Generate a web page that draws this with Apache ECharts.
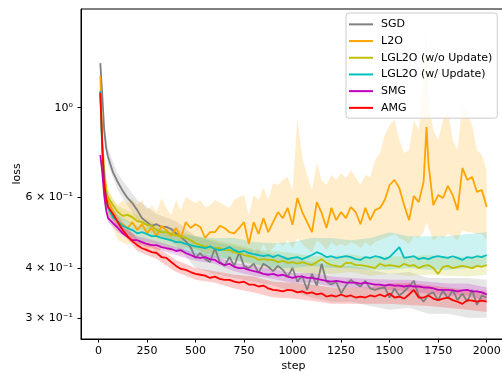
<!DOCTYPE html>
<html>
<head>
<meta charset="utf-8">
<script src="https://cdn.jsdelivr.net/npm/echarts@6/dist/echarts.min.js"></script>
<style>
  html, body { margin: 0; padding: 0; background: #fff; }
  #chart { width: 502px; height: 373px; }
</style>
</head>
<body>
<div id="chart"></div>
<script>
// steps shared by the five smoother methods
const steps = [10, 20, 30, 40, 50, 75, 100, 125, 150, 175,
  200, 225, 250, 275, 300, 325, 350, 375, 400, 425,
  450, 475, 500, 525, 550, 575, 600, 625, 650, 675,
  700, 725, 750, 775, 800, 825, 850, 875, 900, 925,
  950, 975, 1000, 1025, 1050, 1075, 1100, 1125, 1150, 1175,
  1200, 1225, 1250, 1275, 1300, 1325, 1350, 1375, 1400, 1425,
  1450, 1475, 1500, 1525, 1550, 1575, 1600, 1625, 1650, 1675,
  1700, 1725, 1750, 1775, 1800, 1825, 1850, 1875, 1900, 1925,
  1950, 1975, 2000];

// L2O has one extra point at its big spike
const stepsL2O = [10, 20, 30, 40, 50, 75, 100, 125, 150, 175,
  200, 225, 250, 275, 300, 325, 350, 375, 400, 425,
  450, 475, 500, 525, 550, 575, 600, 625, 650, 675,
  700, 725, 750, 775, 800, 825, 850, 875, 900, 925,
  950, 975, 1000, 1025, 1050, 1075, 1100, 1125, 1150, 1175,
  1200, 1225, 1250, 1275, 1300, 1325, 1350, 1375, 1400, 1425,
  1450, 1475, 1500, 1525, 1550, 1575, 1600, 1625, 1650, 1675,
  1690, 1700, 1725, 1750, 1775, 1800, 1825, 1850, 1875, 1900, 1925,
  1950, 1975, 2000];

// steps where the shaded bands of the other methods were read
const bandSteps = [10, 30, 50, 100, 200, 300, 400, 500, 600, 700, 800,
  900, 1000, 1100, 1200, 1300, 1400, 1500, 1600, 1700, 1800, 1900, 2000];

const sgd = [1.29, 1.075, 0.880, 0.794, 0.755, 0.692, 0.654, 0.622, 0.597, 0.580,
  0.557, 0.532, 0.520, 0.509, 0.514, 0.506, 0.506, 0.500, 0.488, 0.478,
  0.466, 0.451, 0.424, 0.436, 0.421, 0.414, 0.448, 0.414, 0.405, 0.426,
  0.405, 0.438, 0.405, 0.400, 0.410, 0.389, 0.410, 0.403, 0.393, 0.405,
  0.396, 0.381, 0.400, 0.370, 0.383, 0.353, 0.387, 0.362, 0.410, 0.370,
  0.364, 0.370, 0.346, 0.362, 0.374, 0.366, 0.360, 0.372, 0.356, 0.353,
  0.356, 0.358, 0.338, 0.356, 0.342, 0.350, 0.360, 0.372, 0.342, 0.330,
  0.344, 0.348, 0.333, 0.352, 0.336, 0.353, 0.333, 0.346, 0.330, 0.353,
  0.324, 0.342, 0.338];

const l2o = [1.199, 0.831, 0.700, 0.625, 0.590, 0.551, 0.520, 0.514, 0.503, 0.520,
  0.497, 0.514, 0.488, 0.503, 0.480, 0.509, 0.497, 0.480, 0.503, 0.475,
  0.520, 0.503, 0.514, 0.506, 0.475, 0.491, 0.491, 0.509, 0.503, 0.491,
  0.488, 0.503, 0.520, 0.459, 0.520, 0.486, 0.532, 0.491, 0.520, 0.551,
  0.532, 0.564, 0.512, 0.597, 0.551, 0.520, 0.491, 0.583, 0.548, 0.503,
  0.564, 0.526, 0.551, 0.532, 0.567, 0.551, 0.514, 0.564, 0.526, 0.557,
  0.564, 0.590, 0.643, 0.662, 0.632, 0.573, 0.526, 0.604, 0.583, 0.654,
  0.895, 0.728, 0.573, 0.607, 0.597, 0.640, 0.607, 0.557, 0.709, 0.662, 0.673,
  0.618, 0.625, 0.567];

const lgl2oWo = [1.08, 0.785, 0.669, 0.618, 0.600, 0.573, 0.551, 0.539, 0.542, 0.535,
  0.523, 0.520, 0.512, 0.509, 0.497, 0.491, 0.491, 0.486, 0.483, 0.478,
  0.475, 0.469, 0.461, 0.456, 0.453, 0.451, 0.448, 0.448, 0.443, 0.443,
  0.438, 0.436, 0.431, 0.428, 0.426, 0.419, 0.421, 0.419, 0.419, 0.414,
  0.417, 0.412, 0.414, 0.410, 0.414, 0.410, 0.407, 0.414, 0.421, 0.412,
  0.407, 0.405, 0.403, 0.412, 0.412, 0.407, 0.407, 0.405, 0.403, 0.400,
  0.410, 0.405, 0.407, 0.405, 0.403, 0.410, 0.405, 0.407, 0.400, 0.405,
  0.407, 0.400, 0.387, 0.403, 0.405, 0.400, 0.403, 0.405, 0.403, 0.400,
  0.405, 0.403, 0.407];

const lgl2oW = [1.10, 0.785, 0.662, 0.590, 0.564, 0.535, 0.523, 0.509, 0.503, 0.497,
  0.488, 0.491, 0.486, 0.480, 0.480, 0.475, 0.472, 0.469, 0.464, 0.464,
  0.459, 0.456, 0.453, 0.451, 0.448, 0.453, 0.446, 0.443, 0.446, 0.451,
  0.443, 0.438, 0.441, 0.436, 0.433, 0.431, 0.428, 0.431, 0.426, 0.431,
  0.426, 0.421, 0.424, 0.426, 0.421, 0.426, 0.431, 0.438, 0.433, 0.426,
  0.428, 0.424, 0.426, 0.428, 0.426, 0.421, 0.419, 0.426, 0.424, 0.428,
  0.426, 0.421, 0.426, 0.438, 0.451, 0.424, 0.426, 0.428, 0.421, 0.424,
  0.421, 0.426, 0.428, 0.426, 0.424, 0.428, 0.424, 0.419, 0.426, 0.424,
  0.428, 0.426, 0.431];

const smg = [0.763, 0.692, 0.607, 0.557, 0.532, 0.517, 0.503, 0.488, 0.478, 0.469,
  0.469, 0.464, 0.459, 0.456, 0.456, 0.451, 0.448, 0.446, 0.441, 0.443,
  0.436, 0.431, 0.426, 0.424, 0.426, 0.421, 0.419, 0.412, 0.407, 0.410,
  0.403, 0.400, 0.400, 0.396, 0.393, 0.391, 0.387, 0.385, 0.387, 0.383,
  0.385, 0.381, 0.378, 0.381, 0.381, 0.378, 0.378, 0.376, 0.374, 0.372,
  0.370, 0.372, 0.370, 0.368, 0.368, 0.368, 0.366, 0.368, 0.366, 0.364,
  0.364, 0.362, 0.364, 0.362, 0.362, 0.360, 0.362, 0.360, 0.360, 0.358,
  0.358, 0.356, 0.353, 0.353, 0.353, 0.352, 0.350, 0.352, 0.353, 0.350,
  0.350, 0.348, 0.344];

const amg = [1.09, 0.808, 0.643, 0.597, 0.567, 0.545, 0.520, 0.497, 0.480, 0.466,
  0.456, 0.448, 0.443, 0.438, 0.436, 0.426, 0.424, 0.414, 0.405, 0.398,
  0.396, 0.391, 0.387, 0.385, 0.383, 0.378, 0.381, 0.376, 0.374, 0.374,
  0.370, 0.368, 0.370, 0.364, 0.364, 0.360, 0.362, 0.356, 0.353, 0.352,
  0.350, 0.353, 0.352, 0.348, 0.350, 0.346, 0.348, 0.344, 0.346, 0.340,
  0.342, 0.340, 0.344, 0.340, 0.342, 0.338, 0.340, 0.338, 0.342, 0.340,
  0.344, 0.340, 0.346, 0.338, 0.340, 0.336, 0.344, 0.353, 0.338, 0.338,
  0.342, 0.336, 0.333, 0.336, 0.338, 0.333, 0.330, 0.326, 0.333, 0.332,
  0.330, 0.332, 0.330];

// shaded bands
const l2oHi = [1.240, 0.880, 0.741, 0.669, 0.632, 0.590, 0.573, 0.590, 0.580, 0.597,
  0.573, 0.590, 0.557, 0.573, 0.551, 0.597, 0.564, 0.542, 0.590, 0.557,
  0.600, 0.590, 0.580, 0.590, 0.567, 0.573, 0.590, 0.583, 0.573, 0.564,
  0.590, 0.600, 0.607, 0.542, 0.607, 0.590, 0.636, 0.590, 0.650, 0.643,
  0.662, 0.673, 0.625, 0.943, 0.755, 0.681, 0.625, 0.729, 0.662, 0.643,
  0.681, 0.662, 0.688, 0.669, 0.700, 0.673, 0.643, 0.681, 0.673, 0.741,
  0.772, 0.855, 0.906, 0.932, 0.831, 0.772, 0.785, 0.932, 0.880, 1.171,
  1.623, 1.045, 0.880, 0.831, 0.932, 0.987, 0.831, 0.785, 1.027, 0.959, 0.906,
  0.785, 0.763, 0.700];
const l2oLo = [1.158, 0.785, 0.643, 0.573, 0.542, 0.503, 0.469, 0.464, 0.456, 0.469,
  0.448, 0.459, 0.443, 0.453, 0.438, 0.448, 0.443, 0.438, 0.448, 0.431,
  0.453, 0.443, 0.448, 0.443, 0.428, 0.438, 0.433, 0.443, 0.443, 0.438,
  0.433, 0.438, 0.448, 0.424, 0.448, 0.433, 0.459, 0.438, 0.448, 0.464,
  0.453, 0.469, 0.448, 0.475, 0.459, 0.448, 0.438, 0.469, 0.459, 0.443,
  0.464, 0.453, 0.459, 0.453, 0.464, 0.459, 0.448, 0.464, 0.453, 0.464,
  0.469, 0.475, 0.480, 0.486, 0.475, 0.469, 0.459, 0.480, 0.475, 0.491,
  0.520, 0.503, 0.469, 0.480, 0.475, 0.486, 0.480, 0.469, 0.497, 0.491, 0.491,
  0.486, 0.486, 0.469];

const sgdHi = [1.328, 0.921, 0.790, 0.685, 0.590, 0.545, 0.523, 0.480, 0.464, 0.453, 0.443,
  0.433, 0.424, 0.414, 0.405, 0.405, 0.396, 0.387, 0.391, 0.378, 0.378, 0.378, 0.374];
const sgdLo = [1.254, 0.841, 0.720, 0.625, 0.526, 0.486, 0.456, 0.400, 0.387, 0.378, 0.370,
  0.362, 0.350, 0.338, 0.330, 0.330, 0.322, 0.315, 0.319, 0.308, 0.308, 0.301, 0.301];
const lgl2oWoHi = [1.113, 0.692, 0.622, 0.570, 0.542, 0.514, 0.500, 0.480, 0.469, 0.459, 0.446,
  0.441, 0.436, 0.428, 0.428, 0.433, 0.424, 0.428, 0.428, 0.431, 0.428, 0.426, 0.431];
const lgl2oWoLo = [1.075, 0.647, 0.580, 0.532, 0.506, 0.480, 0.464, 0.443, 0.428, 0.419, 0.407,
  0.398, 0.393, 0.387, 0.387, 0.391, 0.383, 0.387, 0.383, 0.385, 0.383, 0.381, 0.385];
const lgl2oWHi = [1.120, 0.681, 0.583, 0.542, 0.509, 0.503, 0.488, 0.480, 0.475, 0.475, 0.464,
  0.461, 0.464, 0.475, 0.475, 0.469, 0.475, 0.491, 0.480, 0.480, 0.480, 0.486, 0.491];
const lgl2oWLo = [1.081, 0.643, 0.545, 0.506, 0.469, 0.459, 0.443, 0.431, 0.424, 0.419, 0.410,
  0.400, 0.400, 0.405, 0.400, 0.400, 0.396, 0.396, 0.400, 0.396, 0.396, 0.400, 0.405];
const smgHi = [0.776, 0.625, 0.545, 0.514, 0.480, 0.466, 0.451, 0.436, 0.428, 0.412, 0.405,
  0.398, 0.389, 0.389, 0.381, 0.378, 0.376, 0.374, 0.374, 0.370, 0.366, 0.366, 0.358];
const smgLo = [0.752, 0.590, 0.520, 0.491, 0.459, 0.446, 0.431, 0.417, 0.410, 0.393, 0.383,
  0.376, 0.368, 0.368, 0.360, 0.358, 0.356, 0.353, 0.350, 0.346, 0.342, 0.342, 0.330];
const amgHi = [1.106, 0.662, 0.587, 0.539, 0.472, 0.451, 0.419, 0.400, 0.393, 0.385, 0.381,
  0.370, 0.368, 0.364, 0.358, 0.358, 0.358, 0.366, 0.368, 0.362, 0.358, 0.353, 0.350];
const amgLo = [1.069, 0.625, 0.548, 0.503, 0.441, 0.421, 0.391, 0.374, 0.368, 0.356, 0.348,
  0.338, 0.336, 0.332, 0.326, 0.326, 0.326, 0.326, 0.324, 0.322, 0.319, 0.315, 0.311];

const xTicks = [0, 250, 500, 750, 1000, 1250, 1500, 1750, 2000];
const yTicks = [0.3, 0.4, 0.6, 1];
const yTickLabels = ['3 × 10⁻¹', '4 × 10⁻¹', '6 × 10⁻¹', '10⁰'];
const yMinorTicks = [0.5, 0.7, 0.8, 0.9];

const FONT = 'DejaVu Sans';

const methods = [
  { name: 'SGD', color: '#808080', xs: steps, ys: sgd, bx: bandSteps, lo: sgdLo, hi: sgdHi },
  { name: 'L2O', color: '#ffa500', xs: stepsL2O, ys: l2o, bx: stepsL2O, lo: l2oLo, hi: l2oHi },
  { name: 'LGL2O (w/o Update)', color: '#bfbf00', xs: steps, ys: lgl2oWo, bx: bandSteps, lo: lgl2oWoLo, hi: lgl2oWoHi },
  { name: 'LGL2O (w/ Update)', color: '#00bfbf', xs: steps, ys: lgl2oW, bx: bandSteps, lo: lgl2oWLo, hi: lgl2oWHi },
  { name: 'SMG', color: '#bf00bf', xs: steps, ys: smg, bx: bandSteps, lo: smgLo, hi: smgHi },
  { name: 'AMG', color: '#ff0000', xs: steps, ys: amg, bx: bandSteps, lo: amgLo, hi: amgHi },
];

function bandSeries(m) {
  const data = m.bx.map((x, i) => [x, m.lo[i], m.hi[i]]);
  return {
    type: 'custom',
    name: m.name + ' band',
    silent: true,
    clip: true,
    data: data,
    encode: { x: 0, y: [1, 2] },
    renderItem: function (params, api) {
      if (params.dataIndex !== 0) return null;
      const top = data.map(d => api.coord([d[0], d[2]]));
      const bottom = data.map(d => api.coord([d[0], d[1]])).reverse();
      return {
        type: 'polygon',
        shape: { points: top.concat(bottom) },
        style: { fill: m.color, opacity: 0.2 }
      };
    }
  };
}

function lineSeries(m) {
  return {
    type: 'line',
    name: m.name,
    data: m.xs.map((x, i) => [x, m.ys[i]]),
    symbol: 'none',
    color: m.color,
    lineStyle: { width: 1.8, color: m.color },
    clip: true
  };
}

const series = [];
methods.forEach(m => {
  series.push(bandSeries(m));
  series.push(lineSeries(m));
});

const chart = echarts.init(document.getElementById('chart'), null, { renderer: 'canvas' });

const yLog = {
  type: 'log',
  logBase: 10,
  min: 0.2667,
  max: 1.758,
  splitLine: { show: false },
};

chart.setOption({
  animation: false,
  backgroundColor: '#fff',
  textStyle: { fontFamily: FONT },
  grid: {
    left: 81, top: 9, width: 425, height: 330,
    outerBoundsMode: 'none',
    containLabel: false,
    show: true, borderColor: '#000', borderWidth: 1, backgroundColor: 'transparent'
  },
  legend: {
    data: methods.map(m => ({ name: m.name, icon: 'rect' })),
    orient: 'vertical',
    left: 346,
    top: 13,
    itemWidth: 24,
    itemHeight: 2,
    itemGap: 4,
    padding: [5, 5, 4, 3],
    backgroundColor: 'rgba(255,255,255,0.8)',
    borderColor: '#cccccc',
    borderWidth: 1,
    borderRadius: 3,
    textStyle: { fontFamily: FONT, fontSize: 11, color: '#000', lineHeight: 12.7, padding: [0, 0, 0, 3] }
  },
  xAxis: {
    type: 'value',
    min: -89.5,
    max: 2099.5,
    name: 'step',
    nameLocation: 'middle',
    nameGap: 22,
    nameMoveOverlap: false,
    nameTextStyle: { fontFamily: FONT, fontSize: 11, color: '#000' },
    axisLine: { onZero: false, lineStyle: { color: '#000', width: 1 } },
    axisTick: { customValues: xTicks, length: 3.5, lineStyle: { color: '#000' } },
    axisLabel: {
      customValues: xTicks, margin: 7, fontFamily: FONT, fontSize: 11, color: '#000',
      formatter: v => String(v)
    },
    splitLine: { show: false }
  },
  yAxis: [
    Object.assign({}, yLog, {
      name: 'loss',
      nameLocation: 'middle',
      nameGap: 58,
      nameMoveOverlap: false,
      nameTextStyle: { fontFamily: FONT, fontSize: 11, color: '#000' },
      axisLine: { show: true, onZero: false, lineStyle: { color: '#000', width: 1 } },
      axisTick: { customValues: yTicks, length: 3.5, lineStyle: { color: '#000' } },
      axisLabel: {
        customValues: yTicks,
        margin: 8,
        fontFamily: FONT, fontSize: 11, color: '#000',
        formatter: function (v) {
          for (let i = 0; i < yTicks.length; i++) {
            if (Math.abs(v - yTicks[i]) < 1e-6) return yTickLabels[i];
          }
          return '';
        }
      }
    }),
    Object.assign({}, yLog, {
      axisLine: { show: false, onZero: false },
      axisTick: { customValues: yMinorTicks, length: 2, lineStyle: { color: '#000' } },
      axisLabel: { show: false }
    })
  ],
  series: series
});
</script>
</body>
</html>
